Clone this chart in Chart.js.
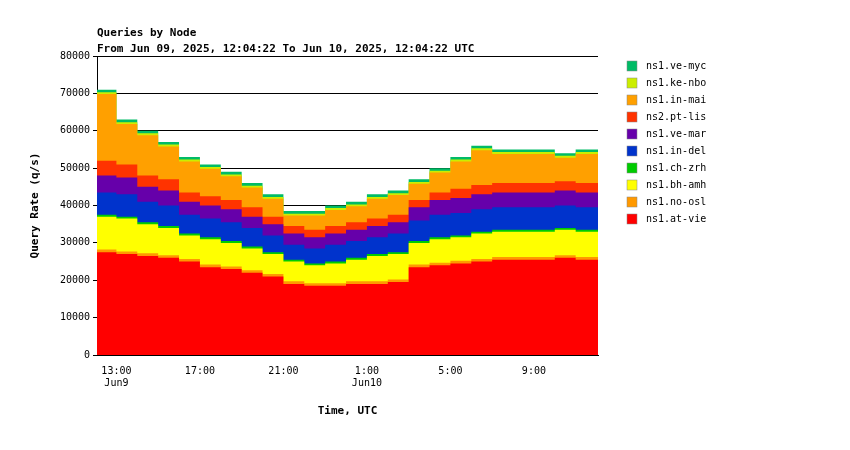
<!DOCTYPE html>
<html>
<head>
<meta charset="utf-8">
<script src="https://cdn.jsdelivr.net/npm/chart.js@4"></script>
<style>
  body { margin: 0; background: #fff; }
  #wrap { width: 850px; height: 450px; }
</style>
</head>
<body>
<div id="wrap"><canvas id="queriesChart"></canvas></div>
<script>
// hours since Jun 09 00:00 UTC
const hours = [12.07, 13, 14, 15, 16, 17, 18, 19, 20, 21, 22, 23, 24, 25, 26, 27, 28, 29, 30, 31, 32, 33, 34, 35, 36.07];
const tickHours = [13, 17, 21, 25, 29, 33];
const yTicks = [0, 10000, 20000, 30000, 40000, 50000, 60000, 70000, 80000];

// values in thousands of q/s, bottom of stack first
const atVie = [27.5, 27, 26.5, 26, 25, 23.5, 23, 22, 21, 19, 18.5, 18.5, 19, 19, 19.5, 23.5, 24, 24.5, 25, 25.5, 25.5, 25.5, 26, 25.5, 25];
const noOsl = [0.7, 0.7, 0.7, 0.7, 0.7, 0.7, 0.7, 0.7, 0.7, 0.7, 0.7, 0.7, 0.7, 0.7, 0.7, 0.7, 0.7, 0.7, 0.7, 0.7, 0.7, 0.7, 0.7, 0.7, 0.7];
const bhAmh = [8.8, 8.8, 7.8, 7.3, 6.3, 6.8, 6.3, 5.8, 5.3, 5.3, 4.8, 5.3, 5.8, 6.8, 6.8, 5.8, 6.3, 6.3, 6.8, 6.8, 6.8, 6.8, 6.8, 6.8, 7.3];
const chZrh = [0.5, 0.5, 0.5, 0.5, 0.5, 0.5, 0.5, 0.5, 0.5, 0.5, 0.5, 0.5, 0.5, 0.5, 0.5, 0.5, 0.5, 0.5, 0.5, 0.5, 0.5, 0.5, 0.5, 0.5, 0.5];
const inDel = [6, 6, 5.5, 5.5, 5, 5, 5, 5, 4.5, 4, 4, 4.5, 4.5, 4.5, 5, 5.5, 6, 6, 6, 6, 6, 6, 6, 6, 6];
const veMar = [4.5, 4.5, 4, 4, 3.5, 3.5, 3.5, 3, 3, 3, 3, 3, 3, 3, 3, 3.5, 4, 4, 4, 4, 4, 4, 4, 4, 4];
const ptLis = [4, 3.5, 3, 3, 2.5, 2.5, 2.5, 2.5, 2, 2, 2, 2, 2, 2, 2, 2, 2, 2.5, 2.5, 2.5, 2.5, 2.5, 2.5, 2.5, 2.5];
const inMai = [17.8, 10.8, 10.8, 8.8, 8.3, 7.3, 6.3, 5.3, 4.8, 2.8, 3.8, 4.3, 4.3, 5.3, 5.3, 4.3, 5.3, 7.3, 9.3, 7.8, 7.8, 7.8, 6.3, 7.8, 12.8];
const keNbo = [0.5, 0.5, 0.5, 0.5, 0.5, 0.5, 0.5, 0.5, 0.5, 0.5, 0.5, 0.5, 0.5, 0.5, 0.5, 0.5, 0.5, 0.5, 0.5, 0.5, 0.5, 0.5, 0.5, 0.5, 0.5];
const veMyc = [0.7, 0.7, 0.7, 0.7, 0.7, 0.7, 0.7, 0.7, 0.7, 0.7, 0.7, 0.7, 0.7, 0.7, 0.7, 0.7, 0.7, 0.7, 0.7, 0.7, 0.7, 0.7, 0.7, 0.7, 0.7];

const series = [
    ['ns1.at-vie', atVie, '#ff0000'],
    ['ns1.no-osl', noOsl, '#ff9900'],
    ['ns1.bh-amh', bhAmh, '#ffff00'],
    ['ns1.ch-zrh', chZrh, '#00cc00'],
    ['ns1.in-del', inDel, '#0033cc'],
    ['ns1.ve-mar', veMar, '#6600aa'],
    ['ns2.pt-lis', ptLis, '#ff3300'],
    ['ns1.in-mai', inMai, '#ffa000'],
    ['ns1.ke-nbo', keNbo, '#ccee00'],
    ['ns1.ve-myc', veMyc, '#00bb66']
];

const mono = "'DejaVu Sans Mono', monospace";

const overlay = {
    id: 'overlay',
    afterDraw(chart) {
        const ctx = chart.ctx;
        const a = chart.chartArea;
        ctx.save();
        ctx.fillStyle = '#000';
        ctx.font = 'bold 11px ' + mono;
        ctx.textBaseline = 'alphabetic';
        ctx.fillText('Queries by Node', a.left, 36);
        ctx.fillText('From Jun 09, 2025, 12:04:22 To Jun 10, 2025, 12:04:22 UTC', a.left, 52);
        // legend, top of stack first
        ctx.font = '10px ' + mono;
        ctx.textBaseline = 'middle';
        series.slice().reverse().forEach((s, i) => {
            const y = 66 + i * 17;
            ctx.fillStyle = s[2];
            ctx.fillRect(627, y - 5, 10, 10);
            ctx.strokeStyle = '#888';
            ctx.lineWidth = 0.5;
            ctx.strokeRect(627, y - 5, 10, 10);
            ctx.fillStyle = '#000';
            ctx.fillText(s[0], 646, y);
        });
        ctx.restore();
    }
};

new Chart(document.getElementById('queriesChart'), {
    type: 'line',
    data: {
        datasets: series.map(s => ({
            label: s[0],
            data: hours.map((h, i) => ({ x: h, y: s[1][i] * 1000 })),
            backgroundColor: s[2],
            borderWidth: 0,
            pointRadius: 0,
            stepped: true,
            fill: true
        }))
    },
    options: {
        responsive: true,
        maintainAspectRatio: false,
        animation: false,
        layout: { padding: { top: 56, right: 252, left: 25, bottom: 32 } },
        plugins: { legend: { display: false }, tooltip: { enabled: false } },
        scales: {
            x: {
                type: 'linear',
                min: hours[0],
                max: hours[hours.length - 1],
                afterBuildTicks: scale => { scale.ticks = tickHours.map(v => ({ value: v })); },
                afterFit: scale => { scale.height = 63; },
                grid: { display: false, drawTicks: true },
                border: { color: '#000' },
                ticks: {
                    color: '#000',
                    font: { family: mono, size: 10 },
                    maxRotation: 0,
                    padding: 2,
                    callback: v => {
                        const h = v % 24;
                        const lbl = h + ':00';
                        if (v === 13) return [lbl, 'Jun9'];
                        if (v === 25) return [lbl, 'Jun10'];
                        return lbl;
                    }
                },
                title: { display: true, text: 'Time, UTC', color: '#000', font: { family: mono, size: 11, weight: 'bold' }, padding: { top: 4, bottom: 0 } }
            },
            y: {
                stacked: true,
                min: 0,
                max: 80000,
                afterBuildTicks: scale => { scale.ticks = yTicks.map(v => ({ value: v })); },
                afterFit: scale => { scale.width = 72; },
                grid: { color: '#000', lineWidth: 1, tickLength: 4 },
                border: { color: '#000' },
                ticks: { color: '#000', font: { family: mono, size: 10 }, callback: v => String(v) },
                title: { display: true, text: 'Query Rate (q/s)', color: '#000', font: { family: mono, size: 11, weight: 'bold' } }
            }
        }
    },
    plugins: [overlay]
});
</script>
</body>
</html>
